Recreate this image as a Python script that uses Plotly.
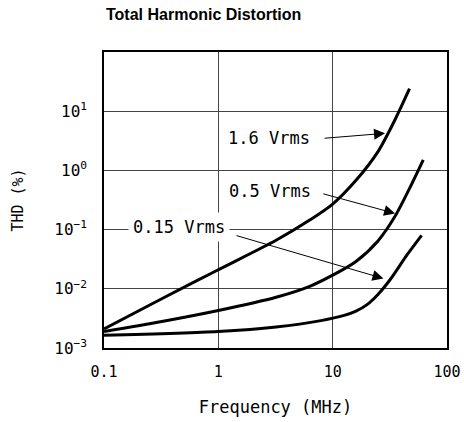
import plotly.graph_objects as go

# ---- data ----
freq_16 = [0.1, 0.32, 1.0, 3.2, 6.3, 10, 16, 25, 35, 47]
thd_16 = [0.0021, 0.0068, 0.021, 0.066, 0.145, 0.27, 0.68, 2.1, 7.1, 24]

freq_05 = [0.1, 0.32, 1.0, 3.2, 6.3, 10, 16, 25, 35, 50, 62]
thd_05 = [0.0019, 0.0028, 0.0043, 0.0072, 0.011, 0.017, 0.029, 0.065, 0.166, 0.63, 1.5]

freq_015 = [0.1, 1.0, 3.2, 7.9, 12.6, 16, 20, 25, 32, 45, 60]
thd_015 = [0.00164, 0.0019, 0.00226, 0.0029, 0.00355, 0.0042, 0.0054, 0.0081, 0.0145, 0.038, 0.08]

x_tickvals = [0.1, 1, 10, 100]
x_ticktext = ["0.1", "1", "10", "100"]
y_tickvals = [0.001, 0.01, 0.1, 1, 10]
y_ticktext = ["10<sup>\u22123</sup>", "10<sup>\u22122</sup>", "10<sup>\u22121</sup>",
              "10<sup>0</sup>", "10<sup>1</sup>"]

labels = ["1.6 Vrms", "0.5 Vrms", "0.15 Vrms"]
# label centre, arrow tail, arrow tip  (log10 coordinates, as plotly wants on log axes)
label_pos = [(0.444, 0.546), (0.448, -0.35), (-0.344, -0.95)]
arrow_tail = [(0.916, 0.541), (0.905, -0.389), (0.146, -1.094)]
arrow_tip = [(1.458, 0.626), (1.546, -0.727), (1.444, -1.826)]

MONO = "DejaVu Sans Mono"
W, H = 464, 422

fig = go.Figure()
for fx, fy in [(freq_16, thd_16), (freq_05, thd_05), (freq_015, thd_015)]:
    fig.add_trace(go.Scatter(x=fx, y=fy, mode="lines",
                             line=dict(color="black", width=3, shape="spline", smoothing=0.8),
                             showlegend=False, hoverinfo="skip"))

for txt, (lx, ly), (tx, ty), (hx, hy) in zip(labels, label_pos, arrow_tail, arrow_tip):
    fig.add_annotation(x=lx, y=ly, xref="x", yref="y", text=txt, showarrow=False,
                       font=dict(family=MONO, size=17, color="black"),
                       bgcolor="white", borderpad=4)
    fig.add_annotation(x=hx, y=hy, ax=tx, ay=ty, xref="x", yref="y", axref="x", ayref="y",
                       text="", showarrow=True, arrowhead=2, arrowsize=2.2, arrowwidth=1,
                       arrowcolor="black", standoff=0, startstandoff=0)

fig.update_layout(
    width=W, height=H,
    margin=dict(l=104, r=17, t=52, b=74, autoexpand=False),
    paper_bgcolor="white", plot_bgcolor="white",
    title=dict(text="<b>Total Harmonic Distortion</b>", x=106 / W, xref="container",
               xanchor="left", y=1 - 14 / H, yref="container", yanchor="middle",
               automargin=False,
               font=dict(family="Liberation Sans, Arial", size=16, color="black")),
    font=dict(family=MONO, color="black"),
)
fig.update_xaxes(type="log", range=[-1, 2], tickvals=x_tickvals, ticktext=x_ticktext,
                 showgrid=True, gridcolor="#444", gridwidth=1,
                 showline=True, mirror=True, linecolor="black", linewidth=1.5,
                 ticks="", zeroline=False, automargin=False, ticklabelstandoff=9,
                 tickfont=dict(family=MONO, size=15, color="black"),
                 title=dict(text="Frequency (MHz)", standoff=21,
                            font=dict(family=MONO, size=17, color="black")))
fig.update_yaxes(type="log", range=[-3, 2], tickvals=y_tickvals, ticktext=y_ticktext,
                 showgrid=True, gridcolor="#444", gridwidth=1,
                 showline=True, mirror=True, linecolor="black", linewidth=1.5,
                 ticks="", zeroline=False, automargin=False, ticklabelstandoff=12,
                 tickfont=dict(family=MONO, size=16, color="black"),
                 title=dict(text="THD (%)", standoff=27,
                            font=dict(family=MONO, size=15, color="black")))

fig.write_html("out.html", config={"displayModeBar": False},
               post_script="document.body.style.margin='0';")
